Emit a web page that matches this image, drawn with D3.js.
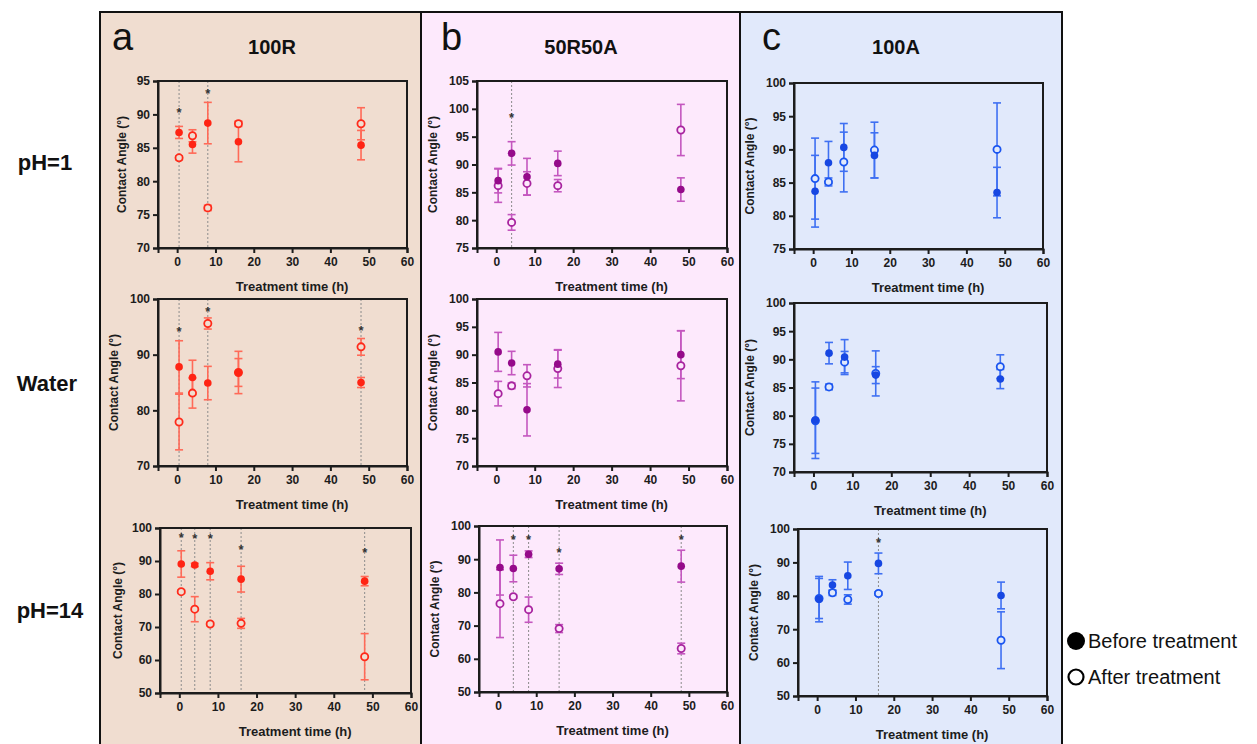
<!DOCTYPE html>
<html><head><meta charset="utf-8">
<script src="https://cdn.jsdelivr.net/npm/d3@7"></script>
<style>html,body{margin:0;padding:0;background:#fff;}svg{display:block;}</style>
</head><body>
<svg id="chart" width="1257" height="744"></svg>
<script>
// ---------------- DATA ----------------
const times = [0.5, 4, 8, 16, 48];
const xTicks = [0, 10, 20, 30, 40, 50, 60];
const columns = ["100R", "50R50A", "100A"];
const columnLetters = ["a", "b", "c"];
const rows = ["pH=1", "Water", "pH=14"];
const legendLabels = ["Before treatment", "After treatment"];

// 100R
const r_pH1_before = [87.3, 85.5, 88.7, 85.9, 85.4];
const r_pH1_before_err = [0.9, 1.3, 3.1, 3.0, 2.2];
const r_pH1_after = [83.5, 86.8, 76.0, 88.6, 88.6];
const r_pH1_after_err = [0.3, 0.9, 0.4, 0.4, 2.4];
const r_pH1_sig = [0.5, 8];
const r_pH1_star = [90.3, 93.2];

const r_w_before = [87.8, 85.9, 84.9, 86.8, 85.0];
const r_w_before_err = [4.7, 3.1, 3.0, 3.8, 0.9];
const r_w_after = [77.9, 83.1, 95.6, 86.8, 91.4];
const r_w_after_err = [5.0, 2.7, 1.0, 2.5, 1.5];
const r_w_sig = [0.5, 8, 48];
const r_w_star = [94.2, 97.8, 94.4];

const r_pH14_before = [89.1, 88.8, 86.9, 84.5, 83.9];
const r_pH14_before_err = [4.0, 0.5, 2.6, 3.9, 1.4];
const r_pH14_after = [80.7, 75.4, 70.9, 71.1, 61.0];
const r_pH14_after_err = [0.5, 3.8, 0.5, 1.5, 7.0];
const r_pH14_sig = [0.5, 4, 8, 16, 48];
const r_pH14_star = [97.2, 97.0, 97.0, 93.7, 92.8];

// 50R50A
const m_pH1_before = [87.1, 92.0, 87.8, 90.2, 85.5];
const m_pH1_before_err = [2.2, 2.1, 3.3, 2.2, 2.1];
const m_pH1_after = [86.2, 79.6, 86.6, 86.2, 96.2];
const m_pH1_after_err = [3.0, 1.4, 2.1, 1.1, 4.6];
const m_pH1_sig = [4];
const m_pH1_star = [98.6];

const m_w_before = [90.5, 88.5, 80.1, 88.3, 90.0];
const m_w_before_err = [3.5, 2.1, 4.7, 2.5, 4.3];
const m_w_after = [83.0, 84.4, 86.2, 87.5, 88.0];
const m_w_after_err = [2.2, 0.5, 2.0, 3.4, 6.3];
const m_w_sig = [];
const m_w_star = [];

const m_pH14_before = [87.5, 87.2, 91.5, 87.1, 87.9];
const m_pH14_before_err = [8.3, 4.0, 1.0, 1.7, 4.8];
const m_pH14_after = [76.6, 78.7, 74.8, 69.1, 63.1];
const m_pH14_after_err = [10.2, 0.5, 3.8, 1.2, 1.6];
const m_pH14_sig = [4, 8, 16, 48];
const m_pH14_star = [96.2, 96.2, 92.3, 96.2];

// 100A
const a_pH1_before = [83.7, 88.0, 90.3, 89.1, 83.5];
const a_pH1_before_err = [5.4, 3.2, 3.6, 3.4, 3.8];
const a_pH1_after = [85.6, 85.1, 88.1, 89.9, 90.0];
const a_pH1_after_err = [6.1, 0.6, 4.5, 4.2, 7.0];
const a_pH1_sig = [];
const a_pH1_star = [];

const a_w_before = [79.2, 91.1, 90.4, 87.2, 86.5];
const a_w_before_err = [6.8, 1.9, 3.1, 1.5, 1.7];
const a_w_after = [79.1, 85.1, 89.5, 87.5, 88.7];
const a_w_after_err = [5.8, 0.5, 1.9, 4.0, 2.1];
const a_w_sig = [];
const a_w_star = [];

const a_pH14_before = [79.0, 83.2, 86.0, 89.7, 80.1];
const a_pH14_before_err = [6.8, 1.6, 4.1, 3.1, 4.0];
const a_pH14_after = [79.2, 80.9, 78.9, 80.7, 66.7];
const a_pH14_after_err = [6.0, 0.8, 1.4, 0.5, 8.5];
const a_pH14_sig = [16];
const a_pH14_star = [96.2];

// y axis ticks per panel
const yTicks_r_pH1 = [70, 75, 80, 85, 90, 95];
const yTicks_m_pH1 = [75, 80, 85, 90, 95, 100, 105];
const yTicks_a_pH1 = [75, 80, 85, 90, 95, 100];
const yTicks_r_w = [70, 80, 90, 100];
const yTicks_m_w = [70, 75, 80, 85, 90, 95, 100];
const yTicks_a_w = [70, 75, 80, 85, 90, 95, 100];
const yTicks_pH14 = [50, 60, 70, 80, 90, 100];

// ---------------- STYLE / LAYOUT ----------------
const FONT = "'Liberation Sans', Arial, Helvetica, sans-serif";
const colBg = ["#f0ddd0", "#fde9fc", "#e1e9fb"];
const colColor = [
  {fill: "#ff2414", open: "#ff2a1a", err: "#ff6a58"},
  {fill: "#950a8a", open: "#a8249f", err: "#c457bf"},
  {fill: "#1747e2", open: "#1a55f0", err: "#3f70f2"}
];
const colX = [100, 421, 740, 1062];

const panels = [
  {c:0,r:0, box:[158,81,407,248], yt:yTicks_r_pH1, b:r_pH1_before, be:r_pH1_before_err, a:r_pH1_after, ae:r_pH1_after_err, sig:r_pH1_sig, star:r_pH1_star, yl:36},
  {c:1,r:0, box:[477,81,727,248], yt:yTicks_m_pH1, b:m_pH1_before, be:m_pH1_before_err, a:m_pH1_after, ae:m_pH1_after_err, sig:m_pH1_sig, star:m_pH1_star, yl:44},
  {c:2,r:0, box:[794,83,1043,249], yt:yTicks_a_pH1, b:a_pH1_before, be:a_pH1_before_err, a:a_pH1_after, ae:a_pH1_after_err, sig:a_pH1_sig, star:a_pH1_star, yl:44},
  {c:0,r:1, box:[158,299,407,466], yt:yTicks_r_w, b:r_w_before, be:r_w_before_err, a:r_w_after, ae:r_w_after_err, sig:r_w_sig, star:r_w_star, yl:44},
  {c:1,r:1, box:[477,299,727,466], yt:yTicks_m_w, b:m_w_before, be:m_w_before_err, a:m_w_after, ae:m_w_after_err, sig:m_w_sig, star:m_w_star, yl:44},
  {c:2,r:1, box:[794,303,1047,472], yt:yTicks_a_w, b:a_w_before, be:a_w_before_err, a:a_w_after, ae:a_w_after_err, sig:a_w_sig, star:a_w_star, yl:44},
  {c:0,r:2, box:[160,528,411,693], yt:yTicks_pH14, b:r_pH14_before, be:r_pH14_before_err, a:r_pH14_after, ae:r_pH14_after_err, sig:r_pH14_sig, star:r_pH14_star, yl:42},
  {c:1,r:2, box:[479,526,727,692], yt:yTicks_pH14, b:m_pH14_before, be:m_pH14_before_err, a:m_pH14_after, ae:m_pH14_after_err, sig:m_pH14_sig, star:m_pH14_star, yl:44},
  {c:2,r:2, box:[798,529,1047,696], yt:yTicks_pH14, b:a_pH14_before, be:a_pH14_before_err, a:a_pH14_after, ae:a_pH14_after_err, sig:a_pH14_sig, star:a_pH14_star, yl:44}
];

const svg = d3.select("#chart");

// column backgrounds and frame
columns.forEach((name, i) => {
  svg.append("rect").attr("x", colX[i]).attr("y", 12)
    .attr("width", colX[i+1]-colX[i]).attr("height", 744-12)
    .attr("fill", colBg[i]);
});
svg.append("line").attr("x1", colX[0]-1).attr("x2", colX[3]+1).attr("y1", 12).attr("y2", 12)
  .attr("stroke", "#111").attr("stroke-width", 2);
colX.forEach(x => {
  svg.append("line").attr("x1", x).attr("x2", x).attr("y1", 11).attr("y2", 744)
    .attr("stroke", "#111").attr("stroke-width", 2);
});

// column letters and titles
const letterX = [112, 441, 762];
const titleX = [272, 581, 896];
columns.forEach((name, i) => {
  svg.append("text").attr("x", letterX[i]).attr("y", 50).text(columnLetters[i])
    .attr("font-family", FONT).attr("font-size", 38).attr("fill", "#111");
  svg.append("text").attr("x", titleX[i]).attr("y", 54).attr("text-anchor", "middle").text(name)
    .attr("font-family", FONT).attr("font-weight", "bold").attr("font-size", 20).attr("fill", "#111");
});

// row labels
const rowY = [170, 391, 618];
const rowX = [45, 47, 50];
rows.forEach((name, i) => {
  svg.append("text").attr("x", rowX[i]).attr("y", rowY[i]).attr("text-anchor", "middle").text(name)
    .attr("font-family", FONT).attr("font-weight", "bold").attr("font-size", 22).attr("fill", "#111");
});

// legend
svg.append("circle").attr("cx", 1076).attr("cy", 641).attr("r", 9).attr("fill", "#000");
svg.append("circle").attr("cx", 1076).attr("cy", 677).attr("r", 7.5).attr("fill", "#fff")
  .attr("stroke", "#000").attr("stroke-width", 2.2);
legendLabels.forEach((t, i) => {
  svg.append("text").attr("x", 1088).attr("y", 648 + i*36).text(t)
    .attr("font-family", FONT).attr("font-size", 20).attr("fill", "#111");
});

// panels
panels.forEach(p => {
  const [L, T, R, B] = p.box;
  const col = colColor[p.c];
  const yDom = d3.extent(p.yt);
  const x = d3.scaleLinear().domain([-5, 60]).range([L, R]);
  const y = d3.scaleLinear().domain(yDom).range([B, T]);
  const g = svg.append("g");

  p.sig.forEach(t => {
    g.append("line").attr("x1", x(t)).attr("x2", x(t)).attr("y1", T).attr("y2", B)
      .attr("stroke", "#8c8c8c").attr("stroke-width", 1).attr("stroke-dasharray", "2,2");
  });

  g.append("rect").attr("x", L).attr("y", T).attr("width", R-L).attr("height", B-T)
    .attr("fill", "none").attr("stroke", "#1c1c1c").attr("stroke-width", 2);

  const xa = g.append("g").attr("transform", `translate(0,${B})`)
    .call(d3.axisBottom(x).tickValues(xTicks).tickSize(5).tickPadding(4).tickFormat(d3.format("d")));
  const ya = g.append("g").attr("transform", `translate(${L},0)`)
    .call(d3.axisLeft(y).tickValues(p.yt).tickSize(5).tickPadding(3).tickFormat(d3.format("d")));
  [xa, ya].forEach(a => {
    a.select(".domain").attr("stroke", "#1c1c1c").attr("stroke-width", 2);
    a.selectAll(".tick line").attr("stroke", "#1c1c1c").attr("stroke-width", 2);
    a.selectAll(".tick text").attr("font-family", FONT).attr("font-weight", "bold")
      .attr("font-size", 12).attr("fill", "#1c1c1c");
  });

  g.append("text").attr("x", (x(0)+x(60))/2).attr("y", B+43).attr("text-anchor", "middle")
    .text("Treatment time (h)").attr("font-family", FONT).attr("font-weight", "bold")
    .attr("font-size", 13).attr("fill", "#1c1c1c");
  g.append("text").attr("transform", `translate(${L - p.yl},${(T+B)/2}) rotate(-90)`)
    .attr("text-anchor", "middle").attr("dy", "0.35em")
    .text("Contact Angle (°)").attr("font-family", FONT).attr("font-weight", "bold")
    .attr("font-size", 12).attr("fill", "#1c1c1c");

  const drawErr = (vals, errs) => {
    times.forEach((t, i) => {
      const cx = x(t), y1 = y(vals[i] + errs[i]), y2 = y(vals[i] - errs[i]);
      g.append("line").attr("x1", cx).attr("x2", cx).attr("y1", y1).attr("y2", y2)
        .attr("stroke", col.err).attr("stroke-width", 1.6);
      [y1, y2].forEach(yy => {
        g.append("line").attr("x1", cx-4).attr("x2", cx+4).attr("y1", yy).attr("y2", yy)
          .attr("stroke", col.err).attr("stroke-width", 1.6);
      });
    });
  };
  drawErr(p.a, p.ae);
  drawErr(p.b, p.be);

  // open markers first, filled on top
  g.selectAll(null).data(times).join("circle")
    .attr("cx", d => x(d)).attr("cy", (d, i) => y(p.a[i])).attr("r", 3.6)
    .attr("fill", colBg[p.c]).attr("stroke", col.open).attr("stroke-width", 1.8);
  g.selectAll(null).data(times).join("circle")
    .attr("cx", d => x(d)).attr("cy", (d, i) => y(p.b[i])).attr("r", 3.8)
    .attr("fill", col.fill);

  p.sig.forEach((t, i) => {
    g.append("text").attr("x", x(t)).attr("y", y(p.star[i]) + 5).attr("text-anchor", "middle")
      .text("*").attr("font-family", FONT).attr("font-weight", "bold").attr("font-size", 13)
      .attr("fill", "#333");
  });
});
</script>
</body></html>
